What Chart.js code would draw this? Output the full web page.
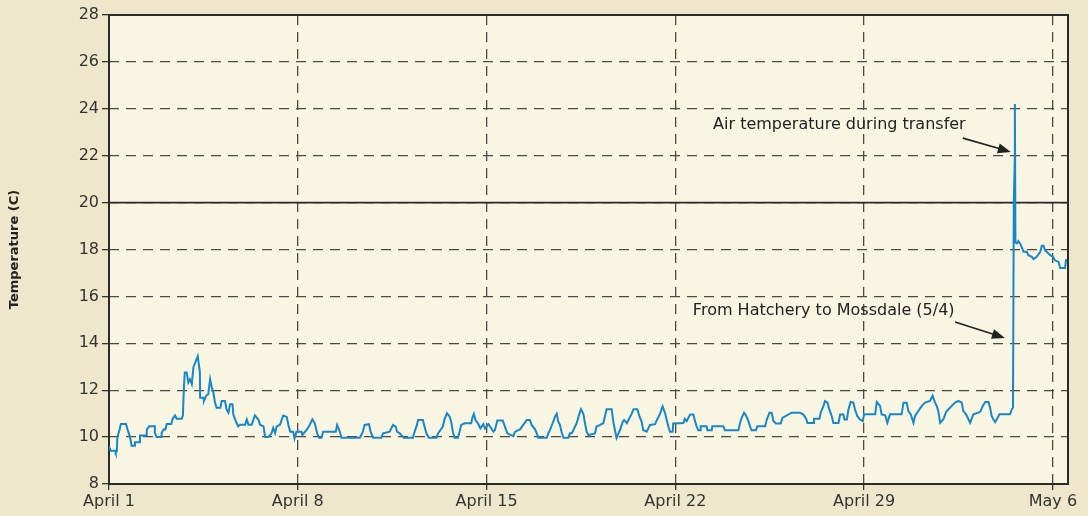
<!DOCTYPE html>
<html>
<head>
<meta charset="utf-8">
<script src="https://cdn.jsdelivr.net/npm/chart.js@4/dist/chart.umd.min.js"></script>
<style>
  html, body { margin: 0; padding: 0; background: #efe7cb; }
  #chart { display: block; }
</style>
</head>
<body>
<canvas id="chart" width="1088" height="516"></canvas>
<script>
// ===== data =====
// x = days since April 1 00:00, y = water temperature (C)
const tickDays = [0, 7, 14, 21, 28, 35];
const tickLabels = ['April 1', 'April 8', 'April 15', 'April 22', 'April 29', 'May 6'];
const dayRange = [0, 35.56];
const tempRange = [8, 28];
const tempStep = 2;
const refTemp = 20;
const noteTexts = ['Air temperature during transfer', 'From Hatchery to Mossdale (5/4)'];

const readings = [
  [0, 9.6], [0.06, 9.42], [0.23, 9.42], [0.25, 9.34], [0.29, 9.4], [0.31, 10.0], [0.39, 10.3], [0.44, 10.56],
  [0.63, 10.56], [0.69, 10.32], [0.78, 10.0], [0.84, 9.63], [0.96, 9.63], [0.96, 9.78], [1.15, 9.78], [1.15, 10.07],
  [1.40, 10.07], [1.40, 10.32], [1.49, 10.46], [1.70, 10.46], [1.70, 10.17], [1.77, 10.0], [1.95, 10.0], [1.95, 10.17],
  [2.02, 10.32], [2.09, 10.32], [2.14, 10.56], [2.31, 10.56], [2.36, 10.78], [2.45, 10.92], [2.51, 10.78], [2.70, 10.78],
  [2.74, 10.92], [2.78, 12.19], [2.81, 12.76], [2.88, 12.76], [2.94, 12.33], [3.00, 12.47], [3.07, 12.26], [3.13, 12.98],
  [3.23, 13.27], [3.29, 13.45], [3.37, 12.76], [3.38, 11.68], [3.50, 11.68], [3.52, 11.54], [3.60, 11.76], [3.68, 11.83],
  [3.75, 12.47], [3.81, 12.12], [3.87, 11.9], [3.93, 11.47], [3.99, 11.25], [4.13, 11.25], [4.18, 11.54], [4.30, 11.54],
  [4.36, 11.18], [4.43, 11.04], [4.49, 11.4], [4.58, 11.4], [4.61, 10.96], [4.67, 10.78], [4.73, 10.6], [4.79, 10.46],
  [4.86, 10.53], [5.05, 10.53], [5.11, 10.75], [5.17, 10.53], [5.29, 10.53], [5.41, 10.92], [5.54, 10.75], [5.60, 10.53],
  [5.73, 10.46], [5.79, 10.0], [5.91, 10.0], [6.03, 10.17], [6.09, 10.39], [6.16, 10.17], [6.22, 10.46], [6.34, 10.53],
  [6.46, 10.92], [6.59, 10.86], [6.65, 10.53],
  // April 8 - 15
  [6.72, 10.23], [6.83, 10.23], [6.88, 9.94], [6.95, 10.23], [7.14, 10.23], [7.17, 10.09], [7.32, 10.30], [7.42, 10.47],
  [7.54, 10.76], [7.63, 10.59], [7.72, 10.16], [7.79, 9.97], [7.88, 9.97], [7.94, 10.23], [8.41, 10.23], [8.46, 10.52],
  [8.56, 10.23], [8.62, 9.97], [9.30, 9.97], [9.40, 10.19], [9.48, 10.52], [9.64, 10.55], [9.70, 10.23], [9.79, 9.97],
  [10.10, 9.97], [10.16, 10.16], [10.41, 10.23], [10.53, 10.52], [10.63, 10.45], [10.68, 10.23], [10.78, 10.16], [10.93, 9.97],
  [11.27, 9.97], [11.33, 10.23], [11.42, 10.52], [11.46, 10.73], [11.64, 10.73], [11.70, 10.45], [11.77, 10.16], [11.86, 9.97],
  [12.14, 9.97], [12.20, 10.16], [12.38, 10.45], [12.44, 10.76], [12.53, 11.02], [12.63, 10.88], [12.69, 10.66], [12.75, 10.23],
  [12.81, 9.97], [12.94, 9.97], [13.00, 10.23], [13.06, 10.52], [13.19, 10.59], [13.43, 10.59], [13.47, 10.81], [13.53, 10.99],
  [13.59, 10.73], [13.68, 10.59], [13.77, 10.37],
  // April 15 - 22
  [13.88, 10.55], [13.94, 10.37], [14.00, 10.45], [14.07, 10.55], [14.13, 10.45], [14.25, 10.23], [14.31, 10.30], [14.40, 10.71],
  [14.60, 10.71], [14.68, 10.45], [14.77, 10.16], [14.99, 10.04], [15.06, 10.23], [15.24, 10.33], [15.36, 10.52], [15.49, 10.73],
  [15.61, 10.73], [15.67, 10.52], [15.80, 10.33], [15.86, 10.16], [15.92, 9.97], [16.23, 9.97], [16.29, 10.16], [16.35, 10.30],
  [16.45, 10.59], [16.54, 10.88], [16.60, 10.99], [16.66, 10.66], [16.72, 10.52], [16.78, 10.23], [16.85, 9.97], [17.03, 9.97],
  [17.09, 10.16], [17.16, 10.16], [17.22, 10.30], [17.34, 10.59], [17.44, 10.99], [17.50, 11.19], [17.59, 10.99], [17.65, 10.59],
  [17.71, 10.23], [17.78, 10.09], [18.02, 10.16], [18.08, 10.45], [18.21, 10.52], [18.33, 10.59], [18.45, 11.19], [18.64, 11.19],
  [18.70, 10.66], [18.76, 10.30], [18.82, 9.97], [18.89, 10.16], [18.95, 10.30], [19.05, 10.66], [19.10, 10.73], [19.20, 10.59],
  [19.26, 10.73], [19.38, 10.99], [19.45, 11.19], [19.59, 11.19], [19.67, 10.88], [19.75, 10.66], [19.81, 10.30], [19.94, 10.23],
  [20.06, 10.52], [20.25, 10.55], [20.31, 10.71], [20.43, 10.99], [20.53, 11.31], [20.62, 11.02], [20.68, 10.73], [20.74, 10.45],
  [20.80, 10.23], [20.90, 10.23], [20.92, 10.58],
  // April 22 - 29
  [21.30, 10.60], [21.35, 10.78], [21.42, 10.68], [21.48, 10.82], [21.55, 10.96], [21.67, 10.96], [21.73, 10.68], [21.79, 10.46],
  [21.85, 10.29], [21.94, 10.29], [21.94, 10.46], [22.16, 10.46], [22.19, 10.29], [22.35, 10.29], [22.37, 10.46], [22.78, 10.46],
  [22.84, 10.29], [23.34, 10.29], [23.40, 10.60], [23.46, 10.82], [23.55, 11.04], [23.62, 10.92], [23.71, 10.68], [23.77, 10.46],
  [23.83, 10.29], [23.99, 10.29], [24.04, 10.46], [24.33, 10.46], [24.39, 10.75], [24.49, 11.04], [24.57, 11.04], [24.64, 10.68],
  [24.73, 10.58], [24.91, 10.58], [24.97, 10.82], [25.31, 11.04], [25.62, 11.04], [25.75, 10.96], [25.85, 10.78], [25.90, 10.60],
  [26.12, 10.60], [26.14, 10.78], [26.34, 10.78], [26.39, 11.04], [26.49, 11.32], [26.55, 11.54], [26.64, 11.47], [26.71, 11.18],
  [26.80, 10.89], [26.86, 10.60], [27.05, 10.60], [27.11, 10.96], [27.23, 10.96], [27.27, 10.75], [27.36, 10.75], [27.42, 11.18],
  [27.50, 11.50], [27.60, 11.47], [27.66, 11.18], [27.75, 10.89], [27.85, 10.75], [27.95, 10.68],
  // April 29 - May 6
  [28.00, 10.97], [28.41, 10.97], [28.47, 11.50], [28.59, 11.33], [28.65, 10.97], [28.78, 10.93], [28.86, 10.61], [28.96, 10.97],
  [29.39, 10.97], [29.46, 11.47], [29.58, 11.47], [29.64, 11.11], [29.73, 10.97], [29.83, 10.61], [29.89, 10.90], [30.01, 11.11],
  [30.14, 11.33], [30.26, 11.47], [30.44, 11.54], [30.54, 11.76], [30.63, 11.47], [30.69, 11.33], [30.75, 11.11], [30.82, 10.61],
  [30.94, 10.76], [31.04, 11.07], [31.13, 11.19], [31.25, 11.33], [31.37, 11.47], [31.50, 11.54], [31.62, 11.47], [31.68, 11.11],
  [31.78, 10.97], [31.87, 10.76], [31.93, 10.61], [32.05, 10.97], [32.24, 11.04], [32.32, 11.11], [32.40, 11.33], [32.49, 11.50],
  [32.61, 11.50], [32.67, 11.26], [32.73, 10.90], [32.79, 10.76], [32.86, 10.64], [32.92, 10.76], [33.02, 10.97], [33.41, 10.97],
  [33.48, 11.19], [33.52, 11.26], [33.55, 20.0], [33.59, 22.0], [33.59, 24.2], [33.61, 18.3], [33.66, 18.26], [33.72, 18.36],
  [33.78, 18.26], [33.84, 18.11], [33.91, 17.90], [34.03, 17.90], [34.09, 17.76], [34.22, 17.69], [34.28, 17.59], [34.40, 17.69],
  [34.53, 17.90], [34.59, 18.16], [34.65, 18.16], [34.71, 17.97], [34.77, 17.90], [34.90, 17.76], [35.00, 17.69], [35.08, 17.54],
  [35.21, 17.47], [35.27, 17.21], [35.45, 17.21], [35.49, 17.59],
];

// ===== styles =====
const FONT = '"DejaVu Sans", sans-serif';
const INK = '#333';
const GRID = '#4d4a44';

// 背景：外框土黄，绘图区米白
const bgPlugin = {
  id: 'bg',
  beforeDraw(chart) {
    const { ctx, chartArea: a } = chart;
    ctx.save();
    ctx.fillStyle = '#efe7cb';
    ctx.fillRect(0, 0, chart.width, chart.height);
    ctx.fillStyle = '#f8f5e3';
    ctx.fillRect(a.left, a.top, a.right - a.left, a.bottom - a.top);
    ctx.restore();
  },
};

// 外框 + 20 度实线
const framePlugin = {
  id: 'frame',
  beforeDatasetsDraw(chart) {
    const { ctx, chartArea: a, scales } = chart;
    const y20 = scales.y.getPixelForValue(refTemp);
    ctx.save();
    ctx.strokeStyle = '#2b2b2b';
    ctx.lineWidth = 2;
    ctx.strokeRect(a.left, a.top, a.right - a.left, a.bottom - a.top);
    ctx.lineWidth = 1.6;
    ctx.beginPath();
    ctx.moveTo(a.left, y20);
    ctx.lineTo(a.right, y20);
    ctx.stroke();
    ctx.restore();
  },
};

function arrow(ctx, x1, y1, x2, y2) {
  const ang = Math.atan2(y2 - y1, x2 - x1);
  const len = 13, half = 5;
  ctx.beginPath();
  ctx.moveTo(x1, y1);
  ctx.lineTo(x2 - Math.cos(ang) * len * 0.8, y2 - Math.sin(ang) * len * 0.8);
  ctx.stroke();
  ctx.beginPath();
  ctx.moveTo(x2, y2);
  ctx.lineTo(x2 - Math.cos(ang) * len - Math.sin(ang) * half, y2 - Math.sin(ang) * len + Math.cos(ang) * half);
  ctx.lineTo(x2 - Math.cos(ang) * len + Math.sin(ang) * half, y2 - Math.sin(ang) * len - Math.cos(ang) * half);
  ctx.closePath();
  ctx.fill();
}

// 注释文字和箭头（位置用数据坐标）
const notesPlugin = {
  id: 'notes',
  afterDatasetsDraw(chart) {
    const { ctx, scales: { x, y } } = chart;
    const px = (d) => x.getPixelForValue(d);
    const py = (t) => y.getPixelForValue(t);
    ctx.save();
    ctx.fillStyle = '#222';
    ctx.strokeStyle = '#222';
    ctx.lineWidth = 1.6;
    ctx.font = '16px ' + FONT;
    ctx.textBaseline = 'middle';
    ctx.fillText(noteTexts[0], px(22.4), py(23.31));
    arrow(ctx, px(31.66), py(22.75), px(33.44), py(22.16));
    ctx.fillText(noteTexts[1], px(21.65), py(15.38));
    arrow(ctx, px(31.37), py(14.91), px(33.22), py(14.23));
    ctx.restore();
  },
};

new Chart(document.getElementById('chart'), {
  type: 'line',
  data: {
    datasets: [{
      data: readings.map(([d, t]) => ({ x: d, y: t })),
      borderColor: '#1787c9',
      borderWidth: 2,
      pointRadius: 0,
      tension: 0,
      fill: false,
    }],
  },
  options: {
    responsive: false,
    animation: false,
    events: [],
    layout: { padding: { top: 15, right: 20, left: 0, bottom: 0 } },
    plugins: { legend: { display: false }, tooltip: { enabled: false } },
    scales: {
      x: {
        type: 'linear',
        min: dayRange[0],
        max: dayRange[1],
        afterBuildTicks: (axis) => { axis.ticks = tickDays.map((v) => ({ value: v })); },
        afterFit: (axis) => { axis.height = 32; },
        ticks: {
          autoSkip: false,
          maxRotation: 0,
          padding: 2,
          color: INK,
          font: { family: FONT, size: 16 },
          callback: (v) => tickLabels[tickDays.indexOf(v)],
        },
        grid: { color: GRID, lineWidth: 1.3, tickLength: 6, tickColor: '#333', tickWidth: 1.3 },
        border: { display: false, dash: [10, 7] },
      },
      y: {
        min: tempRange[0],
        max: tempRange[1],
        afterFit: (axis) => { axis.width = 109; },
        ticks: {
          stepSize: tempStep,
          padding: 3,
          color: INK,
          font: { family: FONT, size: 16 },
        },
        grid: { color: GRID, lineWidth: 1.3, tickLength: 7, tickColor: '#333', tickWidth: 1.3 },
        border: { display: false, dash: [10, 7] },
        title: {
          display: true,
          text: 'Temperature (C)',
          color: '#222',
          font: { family: FONT, size: 13, weight: 'bold' },
          padding: { top: 7, bottom: 0 },
        },
      },
    },
  },
  plugins: [bgPlugin, framePlugin, notesPlugin],
});
</script>
</body>
</html>
